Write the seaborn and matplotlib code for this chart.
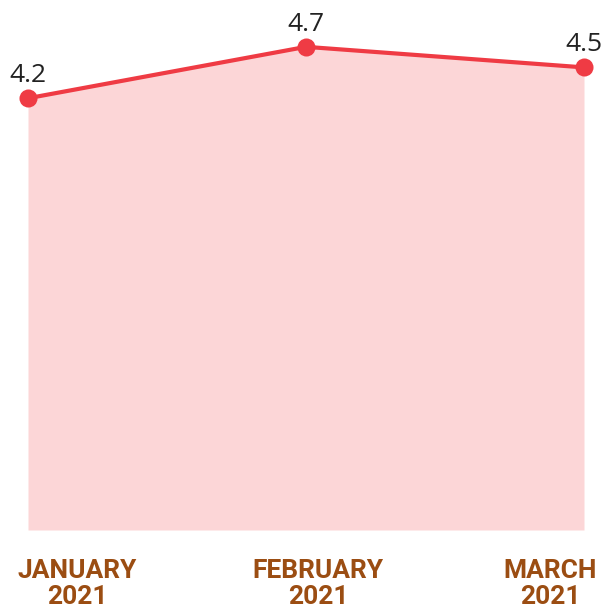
import matplotlib
matplotlib.use("Agg")
import matplotlib.pyplot as plt
import seaborn as sns
import pandas as pd

months = ["JANUARY\n2021", "FEBRUARY\n2021", "MARCH\n2021"]
values = [4.2, 4.7, 4.5]
value_labels = ["4.2", "4.7", "4.5"]

line_color = "#EF3B44"
fill_color = "#FCD6D7"
label_color = "#9B4D12"

df = pd.DataFrame({"pos": range(len(months)), "value": values})

sns.set_style("white")
W, H = 607, 613
fig = plt.figure(figsize=(W / 100, H / 100), dpi=100)
ax = fig.add_axes([28 / W, 83 / H, 556 / W, 514 / H])

ax.fill_between(df["pos"], 0, df["value"], color=fill_color, linewidth=0, zorder=1)
sns.lineplot(data=df, x="pos", y="value", ax=ax, color=line_color, linewidth=3,
             marker="o", markersize=13, markeredgewidth=0, clip_on=False, zorder=3)

ax.set_xlim(0, len(months) - 1)
ax.set_ylim(0, 5)
ax.axis("off")

px = 0.72  # points per pixel
# value labels above points
for x, v, t in zip(df["pos"], df["value"], value_labels):
    ax.annotate(t, (x, v), xytext=(0, 16 * px), textcoords="offset points",
                ha="center", va="baseline", fontsize=19, family="Open Sans",
                color="#222222", annotation_clip=False)

# category labels, nudged to stay inside the chart
nudges = [49, 12, -34]
for x, m, dx in zip(df["pos"], months, nudges):
    ax.annotate(m, (x, 0), xytext=(dx * px, -29 * px), textcoords="offset points",
                ha="center", va="top", fontsize=19, family="Roboto", weight="bold",
                color=label_color, linespacing=1.1, multialignment="center",
                annotation_clip=False)

fig.savefig("out.png", dpi=100)
